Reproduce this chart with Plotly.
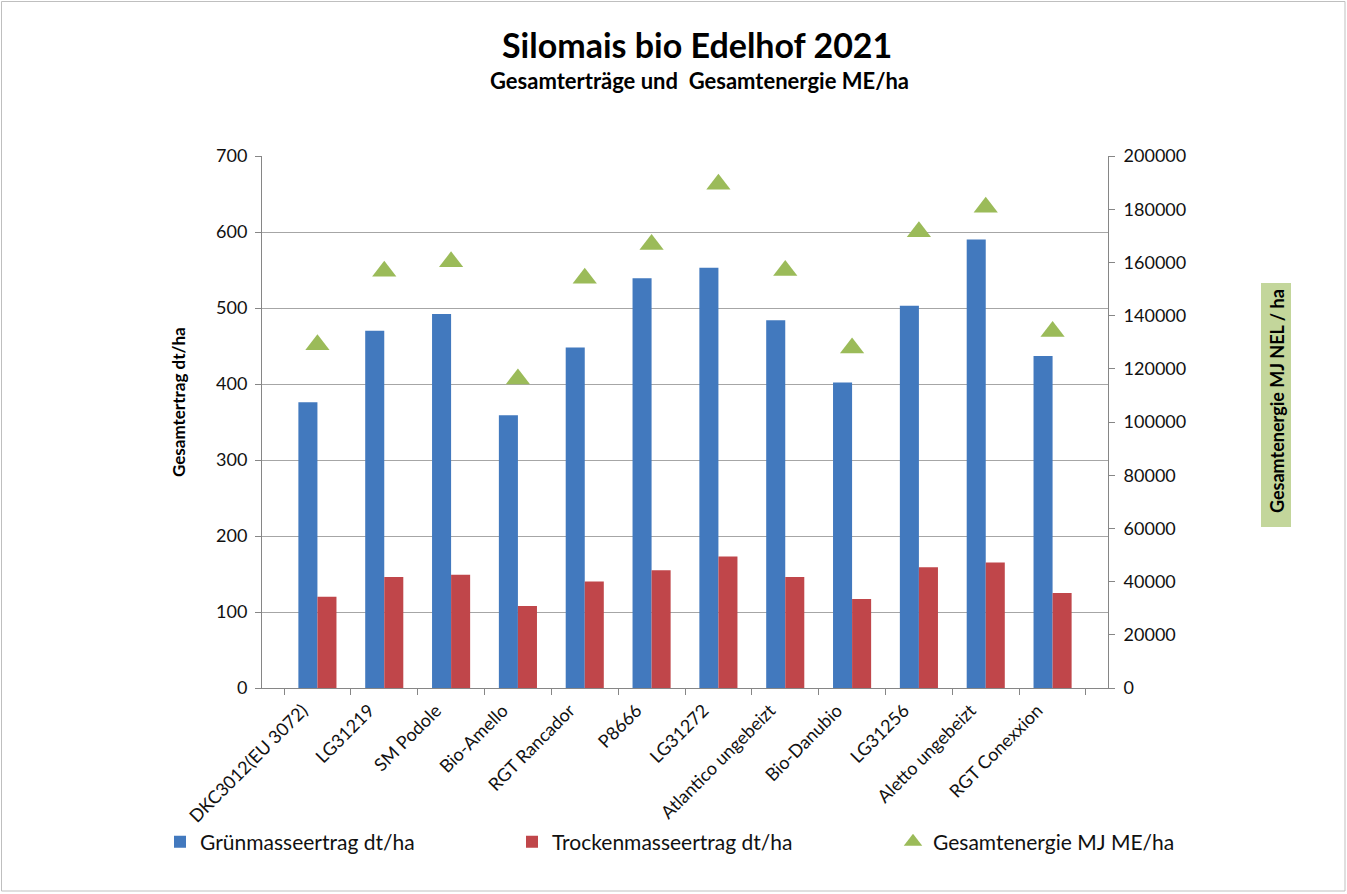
import plotly.graph_objects as go

categories = ["DKC3012(EU 3072)", "LG31219", "SM Podole", "Bio-Amello", "RGT Rancador", "P8666",
              "LG31272", "Atlantico ungebeizt", "Bio-Danubio", "LG31256", "Aletto ungebeizt", "RGT Conexxion"]
gruen = [376, 470, 492, 359, 448, 539, 553, 484, 402, 503, 590, 437]
trocken = [120, 146, 149, 108, 140, 155, 173, 146, 117, 159, 165, 125]
energie = [129000, 156700, 160200, 116200, 154000, 166700, 189400, 157000, 127800, 171500, 180700, 134000]

FONT = "Lato, 'Open Sans', sans-serif"
W, H = 1347, 894
L, R, T, B = 262, 239, 156, 206
pw, ph = W - L - R, H - T - B

def px(x):
    return (x - L) / pw

def py(y):
    return (H - B - y) / ph

fig = go.Figure()
fig.add_trace(go.Bar(x=categories, y=gruen, name="Grünmasseertrag dt/ha", legend="legend",
                     marker=dict(color="#4279BE", line=dict(width=0))))
fig.add_trace(go.Bar(x=categories, y=trocken, name="Trockenmasseertrag dt/ha", legend="legend2",
                     marker=dict(color="#C0464A", line=dict(width=0))))
fig.add_trace(go.Scatter(x=categories, y=energie, name="Gesamtenergie MJ ME/ha", yaxis="y2",
                         legend="legend3", mode="markers",
                         marker=dict(symbol="triangle-up", size=21, color="#9BBB59")))

leg_common = dict(orientation="h", xanchor="left", yanchor="middle", y=py(842),
                  font=dict(size=21, color="#111111"), bgcolor="rgba(0,0,0,0)")

fig.update_layout(
    width=W, height=H,
    margin=dict(l=L, r=R, t=T, b=B, autoexpand=False),
    paper_bgcolor="white", plot_bgcolor="white",
    font=dict(family=FONT, color="#222222", size=17),
    barmode="group", bargap=0.43, bargroupgap=0,
    showlegend=True,
    legend=dict(x=px(160), **leg_common),
    legend2=dict(x=px(512), **leg_common),
    legend3=dict(x=px(893), **leg_common),
    xaxis=dict(type="category", tickangle=-45, showline=True, linecolor="#868686", linewidth=1,
               ticks="outside", tickson="boundaries", ticklen=6, tickcolor="#868686",
               ticklabelshift=-15, ticklabelstandoff=4,
               tickfont=dict(size=18, color="#111111"), showgrid=False, automargin=False),
    yaxis=dict(range=[0, 700], dtick=100, showline=True, linecolor="#868686", linewidth=1,
               ticks="outside", ticklen=6, tickcolor="#868686", showgrid=True,
               gridcolor="#A6A6A6", gridwidth=1, zeroline=False, ticklabelstandoff=4,
               tickfont=dict(size=18, color="#111111"), automargin=False),
    yaxis2=dict(range=[0, 200000], dtick=20000, overlaying="y", side="right", showline=True,
                linecolor="#868686", linewidth=1, ticks="outside", ticklen=6, tickcolor="#868686",
                showgrid=False, zeroline=False, tickformat="d", ticklabelstandoff=5,
                tickfont=dict(size=18, color="#111111"), automargin=False),
)

fig.add_annotation(text="<b>Silomais bio Edelhof 2021</b>", x=px(697), y=py(44), xref="paper", yref="paper",
                   showarrow=False, font=dict(size=34, color="#000000"), xanchor="center", yanchor="middle")
fig.add_annotation(text="<b>Gesamterträge und  Gesamtenergie ME/ha</b>", x=px(699), y=py(80),
                   xref="paper", yref="paper", showarrow=False, font=dict(size=22, color="#000000"),
                   xanchor="center", yanchor="middle")
fig.add_annotation(text="<b>Gesamtertrag dt/ha</b>", x=px(178), y=py(402), xref="paper", yref="paper",
                   showarrow=False, textangle=-90, font=dict(size=17, color="#000000"),
                   xanchor="center", yanchor="middle")

fig.add_shape(type="rect", xref="paper", yref="paper", x0=px(1261), x1=px(1291), y0=py(527), y1=py(283),
              line=dict(width=0), fillcolor="#C3D69B", layer="below")
fig.add_annotation(text="<b>Gesamtenergie MJ NEL / ha</b>", x=px(1277), y=py(401), xref="paper", yref="paper",
                   showarrow=False, textangle=-90, font=dict(size=18, color="#000000"),
                   xanchor="center", yanchor="middle")

fig.add_shape(type="rect", xref="paper", yref="paper", x0=px(1.5), x1=px(1345), y0=py(891), y1=py(1.5),
              line=dict(color="#BFBFBF", width=1), fillcolor="rgba(0,0,0,0)", layer="below")

fig.write_html("out.html", config={"displayModeBar": False},
               post_script="document.body.style.margin='0';document.body.style.overflow='hidden';")
